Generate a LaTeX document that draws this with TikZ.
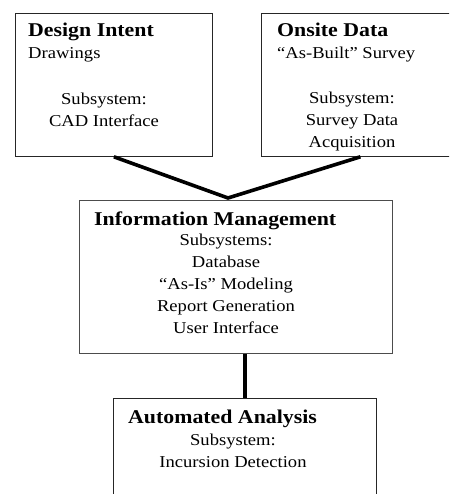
\documentclass[tikz,border=0pt]{standalone}
\usepackage{fontspec}
\setmainfont{Liberation Serif}[FakeStretch=1.12]
\usetikzlibrary{positioning}

\begin{document}
\begin{tikzpicture}[x=1pt, y=-1pt,
   box/.style={draw=black!85, line width=0.8pt, rectangle, anchor=north west, inner sep=0pt},
   title/.style={anchor=base west, inner sep=0pt, font=\fontsize{19.5}{22}\selectfont\bfseries},
   entry/.style={anchor=base west, inner sep=0pt, font=\fontsize{16.6}{22}\selectfont},
   sub/.style={anchor=base, inner sep=0pt, align=center, font=\fontsize{16.6}{22}\selectfont},
   link/.style={line width=3.6pt}]

   \useasboundingbox (0,0) rectangle (449,494);
   \clip (0,0) rectangle (449,494);

   \node[box, minimum width=197pt, minimum height=143pt] (design) at (15,13) {};
   \node[box, minimum width=198pt, minimum height=143pt] (onsite) at (261,13) {};
   \node[box, draw=black!70, minimum width=313pt, minimum height=153pt] (info) at (79,200) {};
   \node[box, minimum width=263pt, minimum height=120pt] (analysis) at (113,398) {};

   % the sub nodes sit on the baseline of their last line
   \node[title] (designT) at (28,37) {Design Intent};
   \node[entry] (designE) at (28,59) {Drawings};
   \node[sub] (designS) at (104,127) {Subsystem:\\CAD Interface};

   \node[title] (onsiteT) at (277,37) {Onsite Data};
   \node[entry] (onsiteE) at (277,59) {``As-Built'' Survey};
   \node[sub] (onsiteS) at (352,148) {Subsystem:\\Survey Data\\Acquisition};

   \node[title] (infoT) at (94,225) {Information Management};
   \node[sub] (infoS) at (226,333) {Subsystems:\\Database\\``As-Is'' Modeling\\Report Generation\\User Interface};

   \node[title] (analysisT) at (128,423) {Automated Analysis};
   \node[sub] (analysisS) at (233,467) {Subsystem:\\Incursion Detection};

   \coordinate (join) at (228,198);

   \draw[link] (design.south) -- (join) -- (onsite.south);
   \draw[link] (info.south -| analysis.north) -- (analysis.north);
\end{tikzpicture}
\end{document}
